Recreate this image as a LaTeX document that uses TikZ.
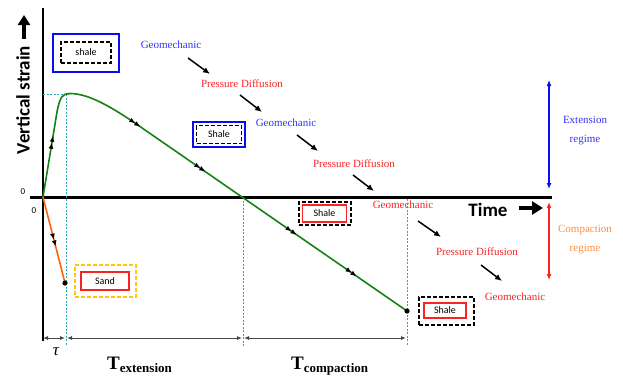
\documentclass[tikz,border=0pt]{standalone}
\usepackage{fontspec}
\setmainfont{Liberation Serif}
\newfontfamily\calfont{Carlito}
\usetikzlibrary{arrows.meta,decorations.markings}
\definecolor{boxblue}{RGB}{10,10,245}
\definecolor{txtblue}{RGB}{50,50,250}
\definecolor{txtred}{RGB}{250,35,35}
\definecolor{txtorange}{RGB}{255,140,60}
\definecolor{lineorange}{RGB}{255,100,10}
\definecolor{curvegreen}{RGB}{20,130,20}
\definecolor{guidecol}{RGB}{40,170,185}
\definecolor{goldcol}{RGB}{255,200,0}
\definecolor{dimgray}{RGB}{70,70,70}
\begin{document}
\begin{tikzpicture}[x=1pt,y=-1pt,
  lbl/.style={inner sep=0pt, font=\fontsize{11}{12}\selectfont},
  bluelbl/.style={lbl, text=txtblue},
  redlbl/.style={lbl, text=txtred},
  flow/.style={line width=1.5pt, -{Latex[length=7pt,width=6pt]}},
  guide/.style={draw=guidecol, line width=0.7pt, dash pattern=on 2pt off 1.5pt},
  dimline/.style={draw=dimgray, line width=0.9pt, {Latex[length=5pt,width=4pt]}-{Latex[length=5pt,width=4pt]}},
  tipat/.style={postaction={decorate,decoration={markings,mark=at position #1 with {\arrow[black]{Latex[length=6pt,width=5pt]}}}}},
  inbox/.style={inner sep=0pt, font=\calfont\fontsize{10}{11}\selectfont},
  outerbox/.style={inner sep=0pt},
  regime/.style={line width=1.6pt, {Latex[length=6pt,width=5pt]}-{Latex[length=6pt,width=5pt]}}
]
\useasboundingbox (0,0) rectangle (623,378);

% axes
\coordinate (ytop) at (43,8);
\coordinate (ybot) at (43,341);
\coordinate (xl) at (30,197);
\coordinate (xr) at (552,197);
\coordinate (O) at (43,197);
\draw[line width=2pt] (ybot) -- (ytop);
\draw[line width=3pt] (xl) -- (xr);

\node[font=\calfont\fontsize{9}{10}\selectfont] (z1) at (23,192) {0};
\node[font=\calfont\fontsize{9}{10}\selectfont] (z2) at (34,211) {0};

% y label
\node[rotate=90, inner sep=0pt, font=\calfont\bfseries\fontsize{19}{20}\selectfont] (ylab) at (23,100) {Vertical strain};
\coordinate (ya1) at (24,39);
\coordinate (ya2) at (24,15);
\draw[line width=3.5pt, -{Triangle[length=10pt,width=12pt]}] (ya1) -- (ya2);

% time label
\node[inner sep=0pt, font=\calfont\bfseries\fontsize{19}{20}\selectfont] (tlab) at (488,210) {Time};
\coordinate (ta1) at (519,208);
\coordinate (ta2) at (543,208);
\draw[line width=4pt, -{Triangle[length=11pt,width=13pt]}] (ta1) -- (ta2);

% guides
\coordinate (pk) at (68,94);
\coordinate (pky) at (43,94);
\coordinate (g1t) at (66,94);
\coordinate (g1b) at (66,346);
\coordinate (g2t) at (243,197);
\coordinate (g2b) at (243,346);
\coordinate (g3t) at (407,199);
\coordinate (g3b) at (407,346);
\draw[guide] (pky) -- (pk);
\draw[guide] (g1t) -- (g1b);
\draw[guide] (g2t) -- (g2b);
\draw[guide] (g3t) -- (g3b);

% green curve
\coordinate (gend) at (407,311);
\draw[curvegreen, line width=1.6pt, tipat=55pt, tipat=62pt, tipat=184pt, tipat=190pt, tipat=263pt, tipat=269pt, tipat=374pt, tipat=380pt, tipat=447pt, tipat=453pt]
  (O) -- (57,112) .. controls (60,96) and (63,93.5) .. (70,93.5)
  .. controls (90,93.5) and (115,109) .. (145,130) -- (gend);
\fill (gend) circle (2.6pt);

% orange line
\coordinate (oend) at (65,283);
\draw[lineorange, line width=1.6pt, tipat=44pt, tipat=51pt] (O) -- (oend);
\fill (oend) circle (2.6pt);

% bottom dimensions
\coordinate (d1a) at (43,338);
\coordinate (d1b) at (65,338);
\coordinate (d2a) at (67,338);
\coordinate (d2b) at (242,338);
\coordinate (d3a) at (244,338);
\coordinate (d3b) at (406,338);
\draw[dimline] (d1a) -- (d1b);
\draw[dimline] (d2a) -- (d2b);
\draw[dimline] (d3a) -- (d3b);
\node[inner sep=0pt, font=\itshape\fontsize{17}{18}\selectfont] (tau) at (56,352) {τ};
\node[inner sep=0pt, anchor=base west] (Text) at (107,369) {\fontsize{19}{20}\selectfont\bfseries T\fontsize{13}{14}\selectfont\raisebox{-3pt}{extension}};
\node[inner sep=0pt, anchor=base west] (Tcomp) at (291,369) {\fontsize{19}{20}\selectfont\bfseries T\fontsize{13}{14}\selectfont\raisebox{-3pt}{compaction}};

% boxes
\node[outerbox, draw=boxblue, line width=2pt, minimum width=66pt, minimum height=38pt] (b1o) at (85.5,52.5) {};
\node[inbox, draw=black, line width=1.6pt, dash pattern=on 4pt off 2pt, minimum width=50pt, minimum height=21pt] (b1i) at (86,52.5) {shale};

\node[outerbox, draw=boxblue, line width=2pt, minimum width=52pt, minimum height=25pt] (b2o) at (218.5,134.5) {};
\node[inbox, draw=black, line width=1.6pt, dash pattern=on 4pt off 2pt, minimum width=45pt, minimum height=18pt] (b2i) at (219,134.5) {Shale};

\node[outerbox, draw=black, line width=1.8pt, dash pattern=on 4pt off 2pt, minimum width=52pt, minimum height=23pt] (b3o) at (325,213.5) {};
\node[inbox, draw=txtred, line width=1.6pt, minimum width=44pt, minimum height=17pt] (b3i) at (324.5,213.5) {Shale};

\node[outerbox, draw=black, line width=1.8pt, dash pattern=on 4pt off 2pt, minimum width=55pt, minimum height=28pt] (b4o) at (446.5,311) {};
\node[inbox, draw=txtred, line width=1.6pt, minimum width=42pt, minimum height=15pt] (b4i) at (445,310.5) {Shale};

\node[outerbox, draw=goldcol, line width=1.8pt, dash pattern=on 4pt off 2pt, minimum width=61pt, minimum height=32pt] (b5o) at (105.5,281) {};
\node[inbox, draw=txtred, line width=1.6pt, minimum width=48pt, minimum height=18pt] (b5i) at (105,281) {Sand};

% process labels
\node[bluelbl] (l1) at (171,45) {Geomechanic};
\node[redlbl] (l2) at (242,84) {Pressure Diffusion};
\node[bluelbl] (l3) at (286,123) {Geomechanic};
\node[redlbl] (l4) at (354,164) {Pressure Diffusion};
\node[redlbl] (l5) at (403,205) {Geomechanic};
\node[redlbl] (l6) at (477,252) {Pressure Diffusion};
\node[redlbl] (l7) at (515,297) {Geomechanic};

\coordinate (a1s) at (188,58);  \coordinate (a1e) at (210,74);
\coordinate (a2s) at (240,95);  \coordinate (a2e) at (262,112);
\coordinate (a3s) at (297,135); \coordinate (a3e) at (318,151);
\coordinate (a4s) at (353,175); \coordinate (a4e) at (374,191);
\coordinate (a5s) at (418,221); \coordinate (a5e) at (441,237);
\coordinate (a6s) at (481,265); \coordinate (a6e) at (502,281);
\draw[flow] (a1s) -- (a1e);
\draw[flow] (a2s) -- (a2e);
\draw[flow] (a3s) -- (a3e);
\draw[flow] (a4s) -- (a4e);
\draw[flow] (a5s) -- (a5e);
\draw[flow] (a6s) -- (a6e);

% regimes
\coordinate (e1) at (549,80);  \coordinate (e2) at (549,189);
\coordinate (c1) at (549,202); \coordinate (c2) at (549,280);
\draw[regime, boxblue] (e1) -- (e2);
\draw[regime, txtred] (c1) -- (c2);
\node[lbl, text=txtblue, align=center, font=\fontsize{11}{19}\selectfont] (ext) at (585,131) {Extension\\regime};
\node[lbl, text=txtorange, align=center, font=\fontsize{11}{19}\selectfont] (comp) at (585,240) {Compaction\\regime};
\end{tikzpicture}
\end{document}
